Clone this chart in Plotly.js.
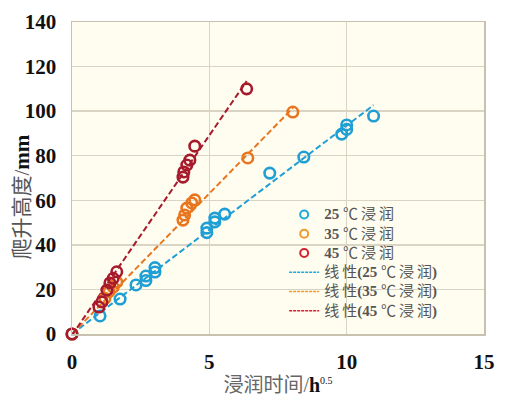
<!DOCTYPE html>
<html><head><meta charset="utf-8">
<script src="https://cdn.plot.ly/plotly-3.0.1.min.js"></script>
<style>html,body{margin:0;padding:0;background:#fff}#c{width:512px;height:402px}</style>
</head><body><div id="c"></div>
<script>
var x25=[0,1.02,1.75,2.33,2.69,2.69,3.02,3.02,4.91,4.91,5.2,5.2,5.56,7.2,8.44,9.82,10.0,10.0,10.98];
var y25=[0,8.1,15.7,22,24,26,27.8,29.8,45.5,47.5,50.3,52,53.8,72.2,79.4,89.7,91.8,93.8,97.8];
var x35=[0,1.2,1.35,1.5,1.63,4.04,4.1,4.18,4.36,4.47,6.4,8.04];
var y35=[0,16,19,21,23.3,51.1,53.4,56.5,58.8,60.2,79,99.6];
var x45=[0,0.98,1.09,1.27,1.38,1.5,1.63,4.04,4.07,4.18,4.29,4.47,6.36];
var y45=[0,12.1,14.4,19.7,22.9,25,27.9,70.4,72.7,75.8,78,84.3,110];
var fit25x=[0,10.98], fit25y=[0,102.7];
var fit35x=[0,8.04], fit35y=[0,101.4];
var fit45x=[0,6.36], fit45y=[-0.5,113.5];
var sp='\u2009';
var names=['<b>25</b> ℃'+sp+'浸'+sp+'润','<b>35</b> ℃'+sp+'浸'+sp+'润','<b>45</b> ℃'+sp+'浸'+sp+'润',
  '线'+sp+'性<b>(25</b> ℃'+sp+'浸'+sp+'润<b>)</b>','线'+sp+'性<b>(35</b> ℃'+sp+'浸'+sp+'润<b>)</b>','线'+sp+'性<b>(45</b> ℃'+sp+'浸'+sp+'润<b>)</b>'];
function big(t){return '<span style="font-size:15px">'+t+'</span>';}
var cB='#1f9fd4', cO='#e8761f', cR='#a71a2c';
var lB='#1fa8e0', lO='#ee9a30', lR='#d42030';
function pts(x,y,c){return {x:x,y:y,type:'scatter',mode:'markers',cliponaxis:false,showlegend:false,
  marker:{symbol:'circle-open',size:10.5,color:c,line:{width:2.6,color:c}}};}
function fit(x,y,c){return {x:x,y:y,type:'scatter',mode:'lines',cliponaxis:false,showlegend:false,
  line:{color:c,width:2,dash:'6px,3px'}};}
function legM(c,n){return {x:[null],y:[null],name:big(n),type:'scatter',mode:'markers',
  marker:{symbol:'circle-open',size:8,color:c,line:{width:2,color:c}}};}
function legL(c,n){return {x:[null],y:[null],name:big(n),type:'scatter',mode:'lines',
  line:{color:c,width:1.6,dash:'3px,1px'}};}
var data=[fit(fit25x,fit25y,cB),fit(fit35x,fit35y,cO),fit(fit45x,fit45y,cR),
  pts(x25,y25,cB),pts(x35,y35,cO),pts(x45,y45,cR),
  legM(lB,names[0]),legM(lO,names[1]),legM(lR,names[2]),
  legL(lB,names[3]),legL(lO,names[4]),legL(lR,names[5])];
var serif='"Liberation Serif","Noto Sans CJK SC",serif';
var tf={family:'"Liberation Serif","Times New Roman",serif',size:21,color:'#111',weight:'bold'};
var layout={width:512,height:402,margin:{l:72,r:28,t:22,b:68},
  paper_bgcolor:'#fff',plot_bgcolor:'#fffdf0',showlegend:true,
  font:{family:serif,color:'#444'},
  legend:{x:0.515,y:0.43,xanchor:'left',yanchor:'top',bgcolor:'rgba(0,0,0,0)',
    font:{size:12.5,color:'#555',family:serif},tracegroupgap:0,itemwidth:30},
  xaxis:{range:[0,15],dtick:5,tickfont:tf,showgrid:true,gridcolor:'#d9d4c4',gridwidth:1.5,ticklabelstandoff:8,
    showline:true,linecolor:'#c8c1b0',linewidth:1.5,mirror:true,zeroline:false,ticks:'',
    title:{text:'浸润时间/<b><span style="color:#111">h</span></b><sup><span style="font-size:10px;color:#111">0.5</span></sup>',font:{size:20,color:'#666',family:serif},standoff:5}},
  yaxis:{range:[0,140],dtick:20,tickfont:tf,showgrid:true,gridcolor:'#d9d4c4',gridwidth:1.5,ticklabelstandoff:10,
    showline:true,linecolor:'#c8c1b0',linewidth:1.5,mirror:true,zeroline:false,ticks:''},
  annotations:[{text:'爬升高度/<b><span style="color:#111">mm</span></b>',xref:'paper',yref:'paper',
    x:-0.121,y:0.438,xanchor:'center',yanchor:'middle',textangle:-90,showarrow:false,
    font:{size:21,color:'#555',family:serif}}]
};
Plotly.newPlot('c',data,layout,{displayModeBar:false,staticPlot:true});
</script></body></html>
